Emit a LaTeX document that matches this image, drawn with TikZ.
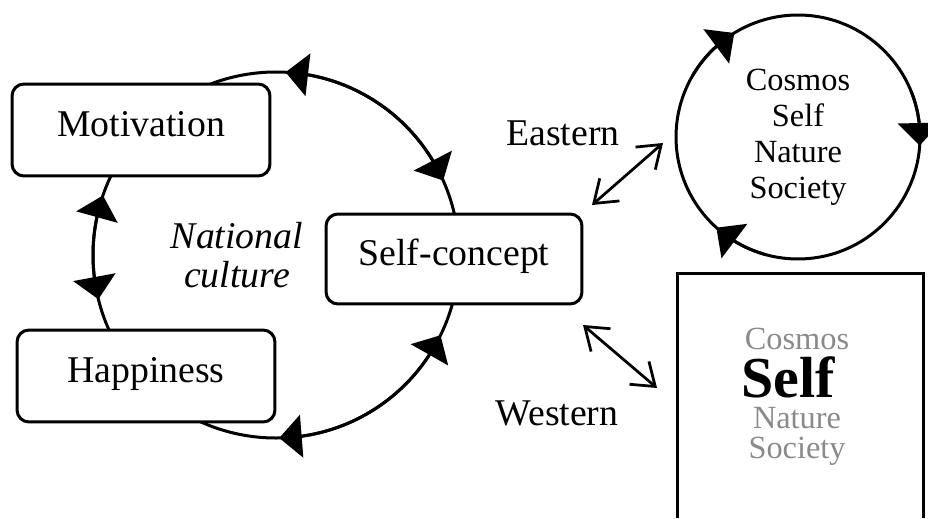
\documentclass[tikz,border=0pt]{standalone}
\usepackage{fontspec}
\setmainfont{Liberation Serif}
\usetikzlibrary{arrows.meta,bending,calc}
\definecolor{fadedtext}{RGB}{138,138,138}
\tikzset{
  rbox/.style={draw, line width=0.06cm, rounded corners=0.24cm, fill=white,
    minimum width=5.16cm, minimum height=1.84cm, inner sep=0pt,
    text height=0.46cm, text depth=0.2cm},
  bigtext/.style={font=\fontsize{21.5pt}{26pt}\selectfont},
  smalltext/.style={font=\fontsize{18.4pt}{20.5pt}\selectfont},
  cyctip/.style={line width=0.06cm,
    {Triangle[length=0.45cm,width=0.85cm]}-{Triangle[length=0.45cm,width=0.85cm]}},
  ringtip/.style={line width=0.06cm, -{Triangle[length=0.45cm,width=0.85cm]}},
  linkarrow/.style={line width=0.055cm,
    {Straight Barb[length=0.42cm,width=0.6cm]}-{Straight Barb[length=0.42cm,width=0.6cm]}}
}
\begin{document}
\begin{tikzpicture}[x=0.02cm, y=0.02cm]
                \useasboundingbox (0,0) rectangle (928,518);
                
                % Centre of the culture cycle
                \coordinate (cyc) at (276,263);%
                \draw [line width=0.06cm] (cyc) circle (183);%
                
                % Drawing boxes on the cycle
                \node [rbox, bigtext] (motiv) at (141,388) {Motivation};%
                \node [rbox, bigtext] (happy) at (146,142) {Happiness};%
                \node [rbox, bigtext, minimum width=5.12cm, minimum height=1.8cm] (selfc) at (454,259) {Self-concept};%
                
                % Drawing label in the middle
                \node [align=center, font=\fontsize{21.5pt}{22.6pt}\selectfont\itshape, inner sep=0pt] (natcult) at (237,263) {National\\culture};%
                
                % Drawing arcs Motivation Self-concept, Motivation Happiness, Happiness Self-concept
                \draw [cyctip] ($(cyc)+(87:183)$) arc [start angle=87, end angle=24, radius=183];%
                \draw [cyctip] ($(cyc)+(161:183)$) arc [start angle=161, end angle=194, radius=183];%
                \draw [cyctip] ($(cyc)+(271:183)$) arc [start angle=271, end angle=334, radius=183];%
                
                % Marking eastern ring by circle
                \node [draw, circle, line width=0.06cm, minimum size=4.88cm, inner sep=0pt, smalltext, align=center] (eastring) at (798,381) {Cosmos\\Self\\Nature\\Society};%
                \draw [ringtip] ($(eastring.center)+(150:122)$) arc [start angle=150, end angle=121.5, radius=122];%
                \draw [ringtip] ($(eastring.center)+(22:122)$) arc [start angle=22, end angle=-4, radius=122];%
                \draw [ringtip] ($(eastring.center)+(255:122)$) arc [start angle=255, end angle=228, radius=122];%
                
                % Drawing western square, cut at the bottom
                \draw [line width=0.06cm] (677,0) |- (923,245) -- (923,0);%
                \node [smalltext, text=fadedtext, anchor=base, inner sep=0pt] (sqcosmos) at (797,169) {Cosmos};%
                \node [font=\fontsize{33pt}{33pt}\selectfont\bfseries, anchor=base, inner sep=0pt] (sqself) at (788,121) {Self};%
                \node [smalltext, text=fadedtext, anchor=base, inner sep=0pt] (sqnature) at (797,90) {Nature};%
                \node [smalltext, text=fadedtext, anchor=base, inner sep=0pt] (sqsociety) at (797,60) {Society};%
                
                % Drawing links to the two views
                \coordinate (eastfrom) at (592,313);%
                \coordinate (eastto) at (663,375);%
                \coordinate (westfrom) at (583,193);%
                \coordinate (westto) at (657,130);%
                \draw [linkarrow] (eastfrom) -- (eastto);%
                \draw [linkarrow] (westfrom) -- (westto);%
                \node [bigtext, anchor=base, inner sep=0pt] (eastlbl) at (563,373) {Eastern};%
                \node [bigtext, anchor=base, inner sep=0pt] (westlbl) at (557,93) {Western};%
\end{tikzpicture}
\end{document}
